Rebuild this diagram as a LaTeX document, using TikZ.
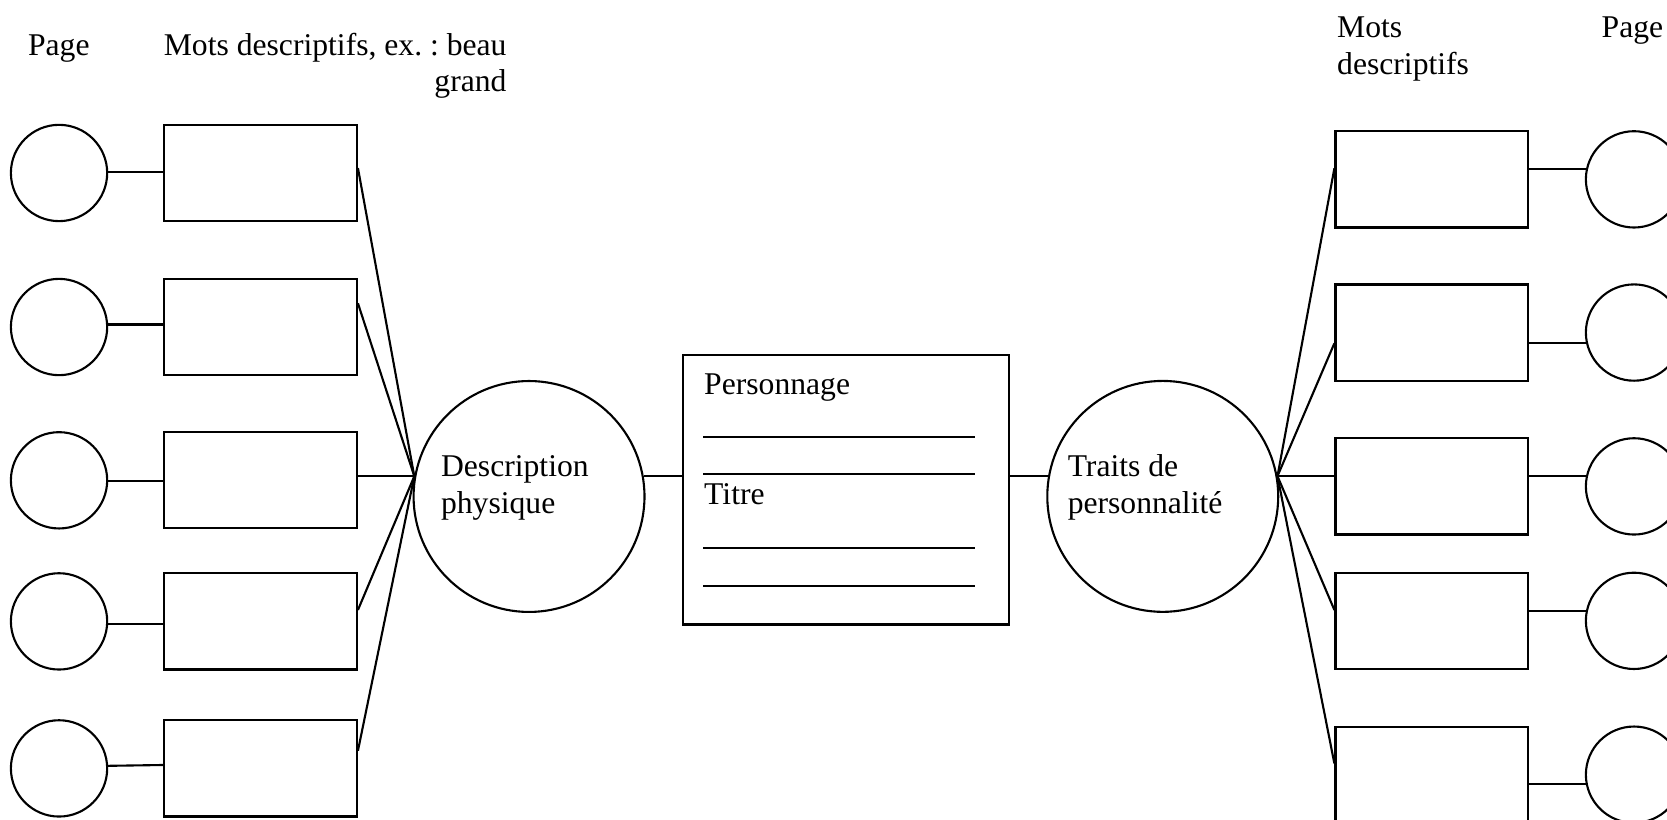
\documentclass[tikz,border=0pt]{standalone}
\usepackage{fontspec}
\setmainfont{Liberation Serif}
\frenchspacing
\usetikzlibrary{calc}

\tikzset{
	pagecircle/.style={draw, circle, inner sep=0pt, minimum size=0.9627cm},
	motbox/.style={draw, rectangle, inner sep=0pt, minimum width=1.9287cm, minimum height=0.9617cm},
	bigcircle/.style={draw, circle, inner sep=0pt, minimum size=2.3084cm},
	fichebox/.style={draw, rectangle, inner sep=0pt, minimum width=3.2659cm, minimum height=2.6946cm},
	lbl/.style={inner sep=0pt, anchor=base west, font=\fontsize{9}{10.46}\selectfont}
}

\begin{document}
\begin{tikzpicture}[x=0.010638cm, y=-0.010638cm, line width=0.6pt]
			%%%%% START %%%%%
			\clip (0,0) rectangle (1567,770);
			
			\node[lbl] (pageG) at (25.4,51.7) {Page};
			\node[lbl, align=right] (motsG) at (153,86.3) {Mots descriptifs, ex. : beau\\grand};
			\node[lbl, align=left] (motsD) at (1256,69.6) {Mots\\descriptifs};
			\node[lbl] (pageD) at (1504.6,35) {Page};
			
			% colonne gauche
			\node[pagecircle] (pG1) at (55.5,162.6) {};
			\node[pagecircle] (pG2) at (55.5,307.4) {};
			\node[pagecircle] (pG3) at (55.5,451.5) {};
			\node[pagecircle] (pG4) at (55.5,584.1) {};
			\node[pagecircle] (pG5) at (55.5,722.3) {};
			
			\node[motbox] (mG1) at (244.8,162.6) {};
			\node[motbox] (mG2) at (244.8,307.4) {};
			\node[motbox] (mG3) at (244.8,451.5) {};
			\node[motbox] (mG4) at (244.8,584.1) {};
			\node[motbox] (mG5) at (244.8,722.3) {};
			
			% centre
			\node[bigcircle] (desc) at (497.3,466.7) {};
			\node[lbl, align=left] (descT) at (413.6,482.6) {Description\\physique};
			
			\node[fichebox] (fiche) at (795.2,460.35) {};
			\node[lbl] (perso) at (661,371) {Personnage};
			\node[lbl] (titre) at (661,474) {Titre};
			\draw (661,411) -- (916.5,411);
			\draw (661,445.8) -- (916.5,445.8);
			\draw (661,515) -- (916.5,515);
			\draw (661,550.8) -- (916.5,550.8);
			
			\node[bigcircle] (traits) at (1093,466.6) {};
			\node[lbl, align=left] (traitsT) at (1002.7,482.6) {Traits de\\personnalit\'e};
			
			% colonne droite
			\node[motbox] (mD1) at (1346,168.6) {};
			\node[motbox] (mD2) at (1346,312.6) {};
			\node[motbox] (mD3) at (1346,457.2) {};
			\node[motbox] (mD4) at (1346,583.6) {};
			\node[motbox] (mD5) at (1346,728.2) {};
			
			\node[pagecircle] (pD1) at (1536,168.6) {};
			\node[pagecircle] (pD2) at (1536,312.6) {};
			\node[pagecircle] (pD3) at (1536,457.2) {};
			\node[pagecircle] (pD4) at (1536,583.6) {};
			\node[pagecircle] (pD5) at (1536,728.2) {};
			
			% liens
			\coordinate (fanG) at (desc.170);
			\coordinate (fanD) at (traits.10);
			
			\draw (pG1.1) -- (pG1.1 -| mG1.west);
			\draw (pG2.3.5) -- (pG2.3.5 -| mG2.west);
			\draw (pG3.-1.7) -- (pG3.-1.7 -| mG3.west);
			\draw (pG4.-3.5) -- (pG4.-3.5 -| mG4.west);
			\draw (pG5.3) -- ($(mG5.west)+(0,-3.2)$);
			
			\draw ($(mG1.east)+(0,-4.6)$) -- (fanG);
			\draw ($(mG2.east)+(0,-22.3)$) -- (fanG);
			\draw (fanG -| mG3.east) -- (fanG);
			\draw ($(mG4.east)+(0,-10.7)$) -- (fanG);
			\draw ($(mG5.east)+(0,-16.6)$) -- (fanG);
			
			\draw (desc.10) -- (desc.10 -| fiche.west);
			\draw (fiche.east |- traits.170) -- (traits.170);
			
			\draw (fanD) -- ($(mD1.west)+(0,-10.4)$);
			\draw (fanD) -- ($(mD2.west)+(0,10.1)$);
			\draw (fanD) -- (fanD -| mD3.west);
			\draw (fanD) -- ($(mD4.west)+(0,-10.2)$);
			\draw (fanD) -- ($(mD5.west)+(0,-10.5)$);
			
			\draw (pD1.168) -- (pD1.168 -| mD1.east);
			\draw (pD2.192) -- (pD2.192 -| mD2.east);
			\draw (pD3.168) -- (pD3.168 -| mD3.east);
			\draw (pD4.168) -- (pD4.168 -| mD4.east);
			\draw (pD5.191) -- (pD5.191 -| mD5.east);
			
			%%%%% END %%%%%
\end{tikzpicture}
\end{document}
